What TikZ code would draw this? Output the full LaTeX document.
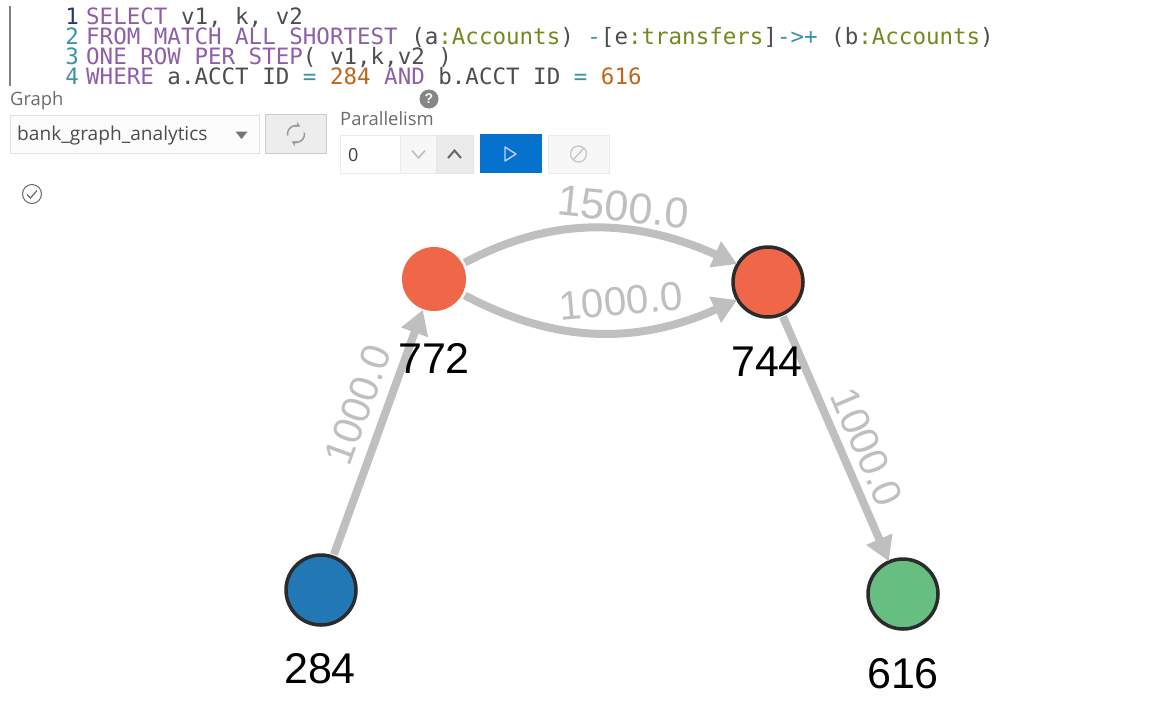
\documentclass[tikz,border=0pt]{standalone}
\usepackage{fontspec}
\setmainfont{Liberation Sans}
\newfontfamily\codefont{DejaVu Sans Mono}
\newfontfamily\uifont{Open Sans}
\usetikzlibrary{arrows.meta}
\definecolor{kw}{HTML}{8E5FA8}
\definecolor{plain}{HTML}{4D4D4D}
\definecolor{ty}{HTML}{6F8A1E}
\definecolor{op}{HTML}{3A94A6}
\definecolor{num}{HTML}{C0651C}
\definecolor{lnone}{HTML}{1F3A7A}
\definecolor{edgegray}{HTML}{BFBFBF}
\definecolor{redn}{HTML}{F06648}
\definecolor{bluen}{HTML}{2278B4}
\definecolor{greenn}{HTML}{66BF80}
\definecolor{ringc}{HTML}{2B2B2B}
\definecolor{uitext}{HTML}{6B6B6B}
\definecolor{runblue}{HTML}{0572CE}
\tikzset{
  code/.style={anchor=base west,inner sep=0,font=\codefont\fontsize{22.5}{22.5}\selectfont,text=plain},
  lnum/.style={anchor=base east,inner sep=0,font=\codefont\fontsize{22.5}{22.5}\selectfont,text=op},
  gnode/.style={circle,inner sep=0,minimum size=70pt,draw=ringc,line width=3.5pt},
  vlabel/.style={inner sep=0,text=black,font=\fontsize{43}{43}\selectfont},
  elabel/.style={inner sep=0,text=edgegray,font=\fontsize{43}{43}\selectfont},
  elabelsmall/.style={inner sep=0,text=edgegray,font=\fontsize{40.5}{40.5}\selectfont},
  edge/.style={draw=edgegray,line width=8pt,-{Triangle[length=24pt,width=27pt]},shorten >=-1pt,shorten <=1pt},
  uilabel/.style={anchor=base west,inner sep=0,text=uitext,font=\uifont\fontsize{18.4}{18.4}\selectfont},
  uibox/.style={anchor=north west,inner sep=0,line width=0.8pt},
}
\newcommand{\kw}[1]{\textcolor{kw}{#1}}
\newcommand{\ty}[1]{\textcolor{ty}{#1}}
\newcommand{\opr}[1]{\textcolor{op}{#1}}
\newcommand{\num}[1]{\textcolor{num}{#1}}
\begin{document}
\begin{tikzpicture}[x=1pt,y=-1pt]
\useasboundingbox (0,0) rectangle (1150,713);
\fill[white] (0,0) rectangle (1150,713);
% code area
\draw[gray,line width=1.8pt] (10,6) -- (10,86);
\node[lnum,text=lnone] (n1) at (79,24) {1};
\node[lnum] (n2) at (79,44) {2};
\node[lnum] (n3) at (79,64) {3};
\node[lnum] (n4) at (79,84) {4};
\node[code] (l1) at (86,24) {\kw{SELECT} v1, k, v2};
\node[code] (l2) at (86,44) {\kw{FROM MATCH ALL SHORTEST} (a\ty{:Accounts}) \opr{-}[e\ty{:transfers}]\opr{->+} (b\ty{:Accounts})};
\node[code] (l3) at (86,64) {\kw{ONE ROW PER STEP}( v1,k,v2 )};
\node[code] (l4) at (86,84) {\kw{WHERE} a.ACCT ID \opr{=} \num{284} \kw{AND} b.ACCT ID \opr{=} \num{616}};
% toolbar
\node[uilabel] (lg) at (10,105) {Graph};
\node[uilabel] (lp) at (340,125) {Parallelism};
\node[circle,fill=gray!95,inner sep=0,minimum size=19pt,text=white,font=\bfseries\fontsize{14}{14}\selectfont] (help) at (429,99) {?};
\node[uibox,draw=black!12,fill=black!1,minimum width=249pt,minimum height=38pt] (sel) at (10,115) {};
\node[anchor=base west,inner sep=0,text=black!70,font=\uifont\fontsize{19.1}{19.1}\selectfont] (seltext) at (17,140) {bank\_graph\_analytics};
\fill[black!55] (235.5,131.5) -- (247.5,131.5) -- (241.5,139) -- cycle;
\node[uibox,draw=black!20,fill=black!7,minimum width=61pt,minimum height=39pt] (ref) at (265,114) {};
\draw[black!40,line width=1.5pt,-{Stealth[length=5pt,width=6pt]}] (287.6,135.5) arc[start angle=170,end angle=300,radius=8.5];
\draw[black!40,line width=1.5pt,-{Stealth[length=5pt,width=6pt]}] (304.4,132.5) arc[start angle=-10,end angle=120,radius=8.5];
\node[uibox,draw=black!8,fill=white,minimum width=60pt,minimum height=38pt] (inp) at (340,135) {};
\node[anchor=base west,inner sep=0,text=black!75,font=\uifont\fontsize{18}{18}\selectfont] (inptext) at (348,161) {0};
\node[uibox,draw=black!8,fill=black!3,minimum width=36pt,minimum height=38pt] (dn) at (400,135) {};
\node[uibox,draw=black!10,fill=black!8,minimum width=37pt,minimum height=38pt] (up) at (436,135) {};
\draw[black!25,line width=1.6pt] (412,150.5) -- (418.5,158) -- (425,150.5);
\draw[black!60,line width=2pt] (448,158) -- (454.5,150.5) -- (461,158);
\node[uibox,draw=none,minimum width=62pt,minimum height=39pt,fill=runblue] (run) at (480,134) {};
\draw[white!80!blue,line width=1.4pt,line join=round] (505,147) -- (516,154) -- (505,161) -- cycle;
\node[uibox,draw=black!8,fill=black!3,minimum width=61pt,minimum height=38pt] (cancel) at (548,135) {};
\draw[black!22,line width=1.3pt] (578.5,154) circle[radius=8];
\draw[black!22,line width=1.3pt] (573,160) -- (584,148);
\draw[black!60,line width=1pt] (32,194) circle[radius=9.5];
\draw[black!60,line width=1.2pt] (27,194.5) -- (30.5,198) -- (37,190.5);
% graph
\node[gnode,draw=none,minimum size=64pt,fill=redn] (v772) at (434,279) {};
\node[gnode,fill=redn] (v744) at (768,282) {};
\node[gnode,fill=bluen] (v284) at (321,590) {};
\node[gnode,fill=greenn] (v616) at (903,594) {};
\draw[edge] (v772.28) to[out=28,in=156,looseness=1] (v744.150);
\draw[edge] (v772.-28) to[out=-28,in=204,looseness=1] (v744.-150);
\draw[edge] (v284) -- (v772);
\draw[edge] (v744) -- (v616);
\node[vlabel] (t772) at (434,358) {772};
\node[vlabel] (t744) at (767,362) {744};
\node[vlabel] (t284) at (320,669) {284};
\node[vlabel] (t616) at (903,674) {616};
\node[elabel,rotate=-6] (e1) at (623,207) {1500.0};
\node[elabelsmall,rotate=5] (e2) at (621,301) {1000.0};
\node[elabelsmall,rotate=70] (e3) at (358,405) {1000.0};
\node[elabelsmall,rotate=-67] (e4) at (867,447) {1000.0};
\end{tikzpicture}
\end{document}
